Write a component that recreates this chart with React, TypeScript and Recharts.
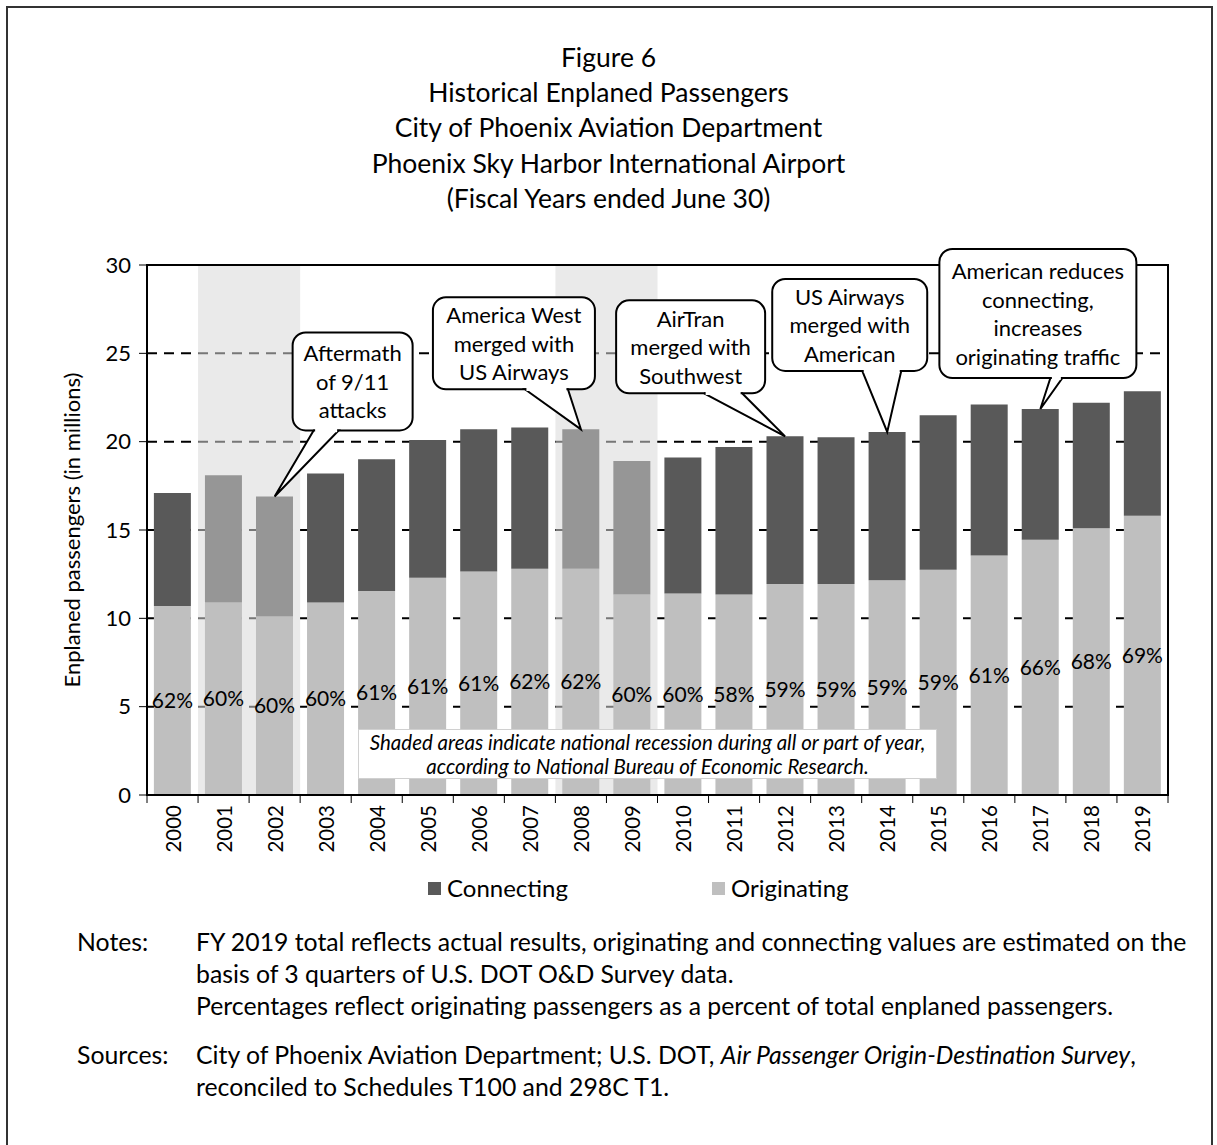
import React from "react"
import {
  Bar,
  BarChart,
  CartesianGrid,
  Cell,
  LabelList,
  ReferenceArea,
  ReferenceDot,
  XAxis,
  YAxis,
} from "recharts"

// Fiscal years, values in millions of enplaned passengers
const years = [
  "2000", "2001", "2002", "2003", "2004", "2005", "2006", "2007", "2008", "2009",
  "2010", "2011", "2012", "2013", "2014", "2015", "2016", "2017", "2018", "2019",
]
const originating = [
  10.7, 10.9, 10.1, 10.9, 11.55, 12.3, 12.65, 12.8, 12.8, 11.35,
  11.4, 11.35, 11.95, 11.95, 12.15, 12.75, 13.55, 14.45, 15.1, 15.8,
]
const connecting = [
  6.4, 7.2, 6.8, 7.3, 7.45, 7.8, 8.05, 8.0, 7.9, 7.55,
  7.7, 8.35, 8.35, 8.3, 8.4, 8.75, 8.55, 7.4, 7.1, 7.05,
]
const pctLabels = [
  "62%", "60%", "60%", "60%", "61%", "61%", "61%", "62%", "62%", "60%",
  "60%", "58%", "59%", "59%", "59%", "59%", "61%", "66%", "68%", "69%",
]
const recessionYears = ["2001", "2002", "2008", "2009"]
const recessionSpans = [
  ["2001", "2002"],
  ["2008", "2009"],
]
const yTicks = [0, 5, 10, 15, 20, 25, 30]

const titleLines = [
  "Figure 6",
  "Historical Enplaned Passengers",
  "City of Phoenix Aviation Department",
  "Phoenix Sky Harbor International Airport",
  "(Fiscal Years ended June 30)",
]

// callouts: box and tail are placed relative to the bar top they point at
const callouts = [
  { year: "2002", lines: ["Aftermath", "of 9/11", "attacks"], box: [18, -164, 120, 98], tail: [39, 64] },
  { year: "2008", lines: ["America West", "merged with", "US Airways"], box: [-148, -132, 162, 92], tail: [-56, -13] },
  { year: "2012", lines: ["AirTran", "merged with", "Southwest"], box: [-169, -136, 149, 93], tail: [-81, -43] },
  { year: "2014", lines: ["US Airways", "merged with", "American"], box: [-115, -153, 155, 92], tail: [-25, 14] },
  {
    year: "2017",
    lines: ["American reduces", "connecting,", "increases", "originating traffic"],
    box: [-101, -160, 197, 129],
    tail: [10, 22],
  },
]

const FONT = "Lato, 'Open Sans', sans-serif"

const data = years.map((year, i) => ({
  year,
  originating: originating[i],
  connecting: connecting[i],
  total: originating[i] + connecting[i],
  pct: pctLabels[i],
}))

const YearTick = (props: any) => {
  const { x, y, payload, index, width, visibleTicksCount } = props
  const band = width / visibleTicksCount
  return (
    <g>
      <line x1={x - band / 2} x2={x - band / 2} y1={y - 8} y2={y} stroke="#000" strokeWidth={1} />
      {index === visibleTicksCount - 1 && (
        <line x1={x + band / 2} x2={x + band / 2} y1={y - 8} y2={y} stroke="#000" strokeWidth={1} />
      )}
      <text
        x={x}
        y={y + 2}
        transform={`rotate(-90, ${x}, ${y + 2})`}
        textAnchor="end"
        dominantBaseline="central"
        fontSize={20.5}
        fontFamily={FONT}
        fill="#000"
      >
        {payload.value}
      </text>
    </g>
  )
}

const makeCallout = (c: (typeof callouts)[number]) => (props: any) => {
  const { cx, cy } = props
  const [bx, by, bw, bh] = c.box
  const left = cx + bx
  const top = cy + by
  const bottom = top + bh
  const t1 = cx + c.tail[0]
  const t2 = cx + c.tail[1]
  const lineGap = 28.5
  const firstY = top + bh / 2 - ((c.lines.length - 1) * lineGap) / 2
  return (
    <g>
      <rect x={left} y={top} width={bw} height={bh} rx={13} ry={13} fill="#fff" stroke="#000" strokeWidth={2} />
      <polygon points={`${t1},${bottom} ${cx},${cy} ${t2},${bottom}`} fill="#fff" stroke="#000" strokeWidth={2} />
      <line x1={t1 + 1.5} x2={t2 - 1.5} y1={bottom} y2={bottom} stroke="#fff" strokeWidth={3.5} />
      {c.lines.map((ln, i) => (
        <text
          key={i}
          x={left + bw / 2}
          y={firstY + i * lineGap}
          textAnchor="middle"
          dominantBaseline="central"
          fontSize={22}
          fontFamily={FONT}
          fill="#000"
        >
          {ln}
        </text>
      ))}
    </g>
  )
}

const RecessionShade = (props: any) => {
  const { x, y, width, height } = props
  return <rect x={x} y={y} width={width} height={height} fill="#d8d8d8" fillOpacity={0.55} />
}

export default function App() {
  return (
    <div
      style={{
        position: "absolute",
        left: 0,
        top: 0,
        width: 1217,
        height: 1145,
        overflow: "hidden",
        background: "#fff",
        fontFamily: FONT,
        color: "#000",
      }}
    >
      <div
        style={{
          position: "absolute",
          left: 6,
          top: 6,
          width: 1203,
          height: 1160,
          border: "2px solid #333",
        }}
      />

      {titleLines.map((t, i) => (
        <div
          key={t}
          style={{
            position: "absolute",
            left: 0,
            width: 1217,
            top: 40 + i * 35.2,
            height: 34,
            lineHeight: "34px",
            textAlign: "center",
            fontSize: 26.5,
          }}
        >
          {t}
        </div>
      ))}

      <div style={{ position: "absolute", left: 0, top: 0 }}>
        <BarChart
          width={1217}
          height={1145}
          data={data}
          margin={{ top: 265, right: 49, bottom: 290, left: 77 }}
          barCategoryGap="13.5%"
        >
          <CartesianGrid vertical={false} stroke="#000" strokeWidth={2} strokeDasharray="10 7" />
          {recessionSpans.map(([a, b]) => (
            <ReferenceArea
              key={a}
              x1={a}
              x2={b}
              y1={0}
              y2={30}
              shape={RecessionShade}
              ifOverflow="visible"
              zIndex={-60}
            />
          ))}
          <XAxis
            dataKey="year"
            height={60}
            interval={0}
            tickLine={false}
            axisLine={{ stroke: "#000", strokeWidth: 2 }}
            tick={YearTick}
          />
          <YAxis
            width={70}
            domain={[0, 30]}
            ticks={yTicks}
            interval={0}
            tickSize={8}
            tickLine={{ stroke: "#000" }}
            axisLine={{ stroke: "#000", strokeWidth: 2 }}
            tick={{ fontSize: 22, fontFamily: FONT, fill: "#000", dx: -6 }}
            label={{
              content: (p: any) => {
                const vb = p.viewBox
                const cx = vb.x - 6
                const cy = vb.y + vb.height / 2
                return (
                  <text
                    x={cx}
                    y={cy}
                    transform={`rotate(-90, ${cx}, ${cy})`}
                    textAnchor="middle"
                    dominantBaseline="central"
                    fontSize={22}
                    fontFamily={FONT}
                    fill="#000"
                  >
                    Enplaned passengers (in millions)
                  </text>
                )
              },
            }}
          />
          <Bar dataKey="originating" stackId="a" fill="#bfbfbf" isAnimationActive={false}>
            <LabelList dataKey="pct" position="center" fontSize={21} fontFamily={FONT} fill="#000" />
          </Bar>
          <Bar dataKey="connecting" stackId="a" fill="#595959" isAnimationActive={false}>
            {data.map((d) => (
              <Cell key={d.year} fill={recessionYears.includes(d.year) ? "#969696" : "#595959"} />
            ))}
          </Bar>
          <ReferenceArea y1={0} y2={30} fill="none" stroke="#000" strokeWidth={2} ifOverflow="visible" zIndex={600} />
          {callouts.map((c) => {
            const d = data.find((r) => r.year === c.year)!
            return (
              <ReferenceDot
                key={c.year}
                x={c.year}
                y={d.total}
                r={0}
                ifOverflow="visible"
                shape={makeCallout(c)}
                zIndex={700}
              />
            )
          })}
        </BarChart>
      </div>

      <div
        style={{
          position: "absolute",
          left: 358,
          top: 729,
          width: 579,
          height: 50,
          background: "#fff",
          border: "1px solid #d0d0d0",
          boxSizing: "border-box",
          textAlign: "center",
          fontStyle: "italic",
          fontSize: 20.5,
          lineHeight: "24px",
          paddingTop: 0,
          whiteSpace: "nowrap",
        }}
      >
        Shaded areas indicate national recession during all or part of year,
        <br />
        according to National Bureau of Economic Research.
      </div>

      <div style={{ position: "absolute", top: 874, left: 428, fontSize: 24, lineHeight: "28px", display: "flex", alignItems: "center" }}>
        <span style={{ display: "inline-block", width: 13, height: 13, background: "#595959", marginRight: 6 }} />
        Connecting
      </div>
      <div style={{ position: "absolute", top: 874, left: 712, fontSize: 24, lineHeight: "28px", display: "flex", alignItems: "center" }}>
        <span style={{ display: "inline-block", width: 13, height: 13, background: "#bfbfbf", marginRight: 6 }} />
        Originating
      </div>

      <div style={{ position: "absolute", top: 926, left: 77, fontSize: 24.8, lineHeight: "32px" }}>Notes:</div>
      <div style={{ position: "absolute", top: 926, left: 196, fontSize: 24.8, lineHeight: "32px", width: 1010, whiteSpace: "nowrap" }}>
        <div>FY 2019 total reflects actual results, originating and connecting values are estimated on the</div>
        <div>basis of 3 quarters of U.S. DOT O&amp;D Survey data.</div>
        <div>Percentages reflect originating passengers as a percent of total enplaned passengers.</div>
      </div>
      <div style={{ position: "absolute", top: 1039, left: 77, fontSize: 24.8, lineHeight: "32px" }}>Sources:</div>
      <div style={{ position: "absolute", top: 1039, left: 196, fontSize: 24.8, lineHeight: "32px", width: 1010, whiteSpace: "nowrap" }}>
        <div>
          City of Phoenix Aviation Department; U.S. DOT, <i>Air Passenger Origin-Destination Survey</i>,
        </div>
        <div>reconciled to Schedules T100 and 298C T1.</div>
      </div>
    </div>
  )
}
